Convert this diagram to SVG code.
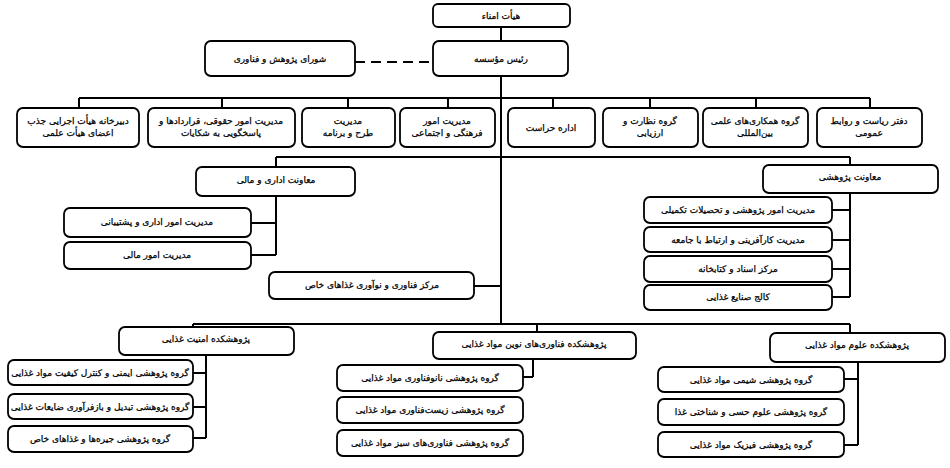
<svg xmlns="http://www.w3.org/2000/svg" width="950" height="468" viewBox="0 0 950 468">
<style>
rect{fill:#fff;stroke:#000;stroke-width:1.8}
text{font-family:"DejaVu Sans","Noto Sans",sans-serif;font-size:9px;fill:#000;stroke:#000;stroke-width:0.25;text-anchor:middle;direction:rtl}
.c line{stroke:#000;stroke-width:2}
.d{stroke-dasharray:10,6}
</style>
<g class="c" id="connectors">
<line x1="501" y1="27" x2="501" y2="41"/>
<line class="d" x1="355" y1="62" x2="433" y2="62"/>
<line x1="501" y1="76" x2="501" y2="324"/>
<line x1="79" y1="98" x2="870" y2="98"/>
<line x1="79" y1="98" x2="79" y2="108"/>
<line x1="222" y1="98" x2="222" y2="108"/>
<line x1="348" y1="98" x2="348" y2="108"/>
<line x1="448" y1="98" x2="448" y2="108"/>
<line x1="553" y1="98" x2="553" y2="108"/>
<line x1="650" y1="98" x2="650" y2="108"/>
<line x1="756" y1="98" x2="756" y2="108"/>
<line x1="870" y1="98" x2="870" y2="108"/>
<line x1="276" y1="157" x2="850" y2="157"/>
<line x1="276" y1="157" x2="276" y2="167"/>
<line x1="850" y1="157" x2="850" y2="165"/>
<line x1="276" y1="196" x2="276" y2="255"/>
<line x1="251" y1="223" x2="276" y2="223"/>
<line x1="251" y1="255" x2="276" y2="255"/>
<line x1="474" y1="286" x2="501" y2="286"/>
<line x1="850" y1="193" x2="850" y2="297"/>
<line x1="832" y1="210" x2="850" y2="210"/>
<line x1="832" y1="240" x2="850" y2="240"/>
<line x1="832" y1="269" x2="850" y2="269"/>
<line x1="832" y1="297" x2="850" y2="297"/>
<line x1="193" y1="324" x2="850" y2="324"/>
<line x1="193" y1="324" x2="193" y2="327"/>
<line x1="537" y1="324" x2="537" y2="332"/>
<line x1="850" y1="324" x2="850" y2="333"/>
<line x1="206" y1="355" x2="206" y2="438"/>
<line x1="193" y1="373" x2="206" y2="373"/>
<line x1="193" y1="407" x2="206" y2="407"/>
<line x1="193" y1="438" x2="206" y2="438"/>
<line x1="533" y1="359" x2="533" y2="377"/>
<line x1="523" y1="377" x2="533" y2="377"/>
<line x1="858" y1="362" x2="858" y2="445"/>
<line x1="844" y1="379" x2="858" y2="379"/>
<line x1="844" y1="445" x2="858" y2="445"/>
</g>
<g id="n-board"><rect x="433" y="4" width="137" height="23" rx="5"/><text x="501" y="19">هیأت امناء</text></g>
<g id="n-head"><rect x="433" y="41" width="135" height="35" rx="6"/><text x="501" y="62">رئیس مؤسسه</text></g>
<g id="n-council"><rect x="205" y="41" width="150" height="35" rx="6"/><text x="280" y="62">شورای پژوهش و فناوری</text></g>
<g id="n-r1"><rect x="17" y="108" width="122" height="39" rx="6"/><text x="78" y="124">دبیرخانه هیأت اجرایی جذب</text><text x="78" y="136">اعضای هیأت علمی</text></g>
<g id="n-r2"><rect x="148" y="108" width="147" height="39" rx="6"/><text x="221" y="124">مدیریت امور حقوقی، قراردادها و</text><text x="221" y="136">پاسخگویی به شکایات</text></g>
<g id="n-r3"><rect x="302" y="108" width="93" height="39" rx="6"/><text x="348" y="124">مدیریت</text><text x="348" y="136">طرح و برنامه</text></g>
<g id="n-r4"><rect x="400" y="108" width="95" height="39" rx="6"/><text x="447" y="124">مدیریت امور</text><text x="447" y="136">فرهنگی و اجتماعی</text></g>
<g id="n-r5"><rect x="508" y="108" width="87" height="39" rx="6"/><text x="551" y="131">اداره حراست</text></g>
<g id="n-r6"><rect x="603" y="108" width="95" height="39" rx="6"/><text x="650" y="124">گروه  نظارت و</text><text x="650" y="136">ارزیابی</text></g>
<g id="n-r7"><rect x="703" y="108" width="105" height="39" rx="6"/><text x="755" y="124">گروه همکاری‌های علمی</text><text x="755" y="136">بین‌المللی</text></g>
<g id="n-r8"><rect x="817" y="108" width="105" height="39" rx="6"/><text x="869" y="124">دفتر ریاست و روابط</text><text x="869" y="136">عمومی</text></g>
<g id="n-admin"><rect x="196" y="167" width="159" height="29" rx="6"/><text x="276" y="183">معاونت اداری و مالی</text></g>
<g id="n-admin1"><rect x="64" y="208" width="187" height="29" rx="6"/><text x="157" y="225">مدیریت امور اداری و پشتیبانی</text></g>
<g id="n-admin2"><rect x="64" y="242" width="187" height="27" rx="6"/><text x="157" y="258">مدیریت امور مالی</text></g>
<g id="n-center"><rect x="269" y="272" width="205" height="27" rx="6"/><text x="372" y="288">مرکز فناوری و نوآوری غذاهای خاص</text></g>
<g id="n-research"><rect x="763" y="165" width="175" height="28" rx="6"/><text x="850" y="180">معاونت پژوهشی</text></g>
<g id="n-res1"><rect x="644" y="197" width="188" height="26" rx="6"/><text x="738" y="213">مدیریت امور پژوهشی و تحصیلات تکمیلی</text></g>
<g id="n-res2"><rect x="644" y="227" width="188" height="25" rx="6"/><text x="738" y="243">مدیریت کارآفرینی  و ارتباط با جامعه</text></g>
<g id="n-res3"><rect x="644" y="256" width="188" height="26" rx="6"/><text x="738" y="272">مرکز اسناد و کتابخانه</text></g>
<g id="n-res4"><rect x="644" y="285" width="188" height="25" rx="6"/><text x="738" y="300">کالج صنایع غذایی</text></g>
<g id="n-inst1"><rect x="119" y="327" width="175" height="28" rx="6"/><text x="206" y="342">پژوهشکده امنیت غذایی</text></g>
<g id="n-inst1a"><rect x="8" y="360" width="185" height="25" rx="6"/><text x="100" y="376">گروه پژوهشی ایمنی و کنترل کیفیت مواد غذایی</text></g>
<g id="n-inst1b"><rect x="8" y="394" width="185" height="25" rx="6"/><text x="100" y="410">گروه پژوهشی تبدیل و بازفرآوری ضایعات غذایی</text></g>
<g id="n-inst1c"><rect x="8" y="426" width="185" height="26" rx="6"/><text x="100" y="442">گروه پژوهشی جیره‌ها و غذاهای خاص</text></g>
<g id="n-inst2"><rect x="433" y="332" width="203" height="27" rx="6"/><text x="534" y="347">پژوهشکده فناوری‌های نوین مواد غذایی</text></g>
<g id="n-inst2a"><rect x="337" y="365" width="186" height="26" rx="6"/><text x="430" y="381">گروه پژوهشی نانوفناوری مواد غذایی</text></g>
<g id="n-inst2b"><rect x="337" y="397" width="186" height="26" rx="6"/><text x="430" y="413">گروه پژوهشی زیست‌فناوری مواد غذایی</text></g>
<g id="n-inst2c"><rect x="337" y="430" width="186" height="26" rx="6"/><text x="430" y="446">گروه پژوهشی فناوری‌های سبز مواد غذایی</text></g>
<g id="n-inst3"><rect x="770" y="333" width="175" height="29" rx="6"/><text x="857" y="348">پژوهشکده علوم مواد غذایی</text></g>
<g id="n-inst3a"><rect x="658" y="367" width="186" height="25" rx="6"/><text x="751" y="383">گروه پژوهشی شیمی مواد غذایی</text></g>
<g id="n-inst3b"><rect x="658" y="399" width="186" height="26" rx="6"/><text x="751" y="415">گروه پژوهشی علوم حسی و شناختی غذا</text></g>
<g id="n-inst3c"><rect x="658" y="432" width="186" height="25" rx="6"/><text x="751" y="448">گروه پژوهشی فیزیک مواد غذایی</text></g>
</svg>
